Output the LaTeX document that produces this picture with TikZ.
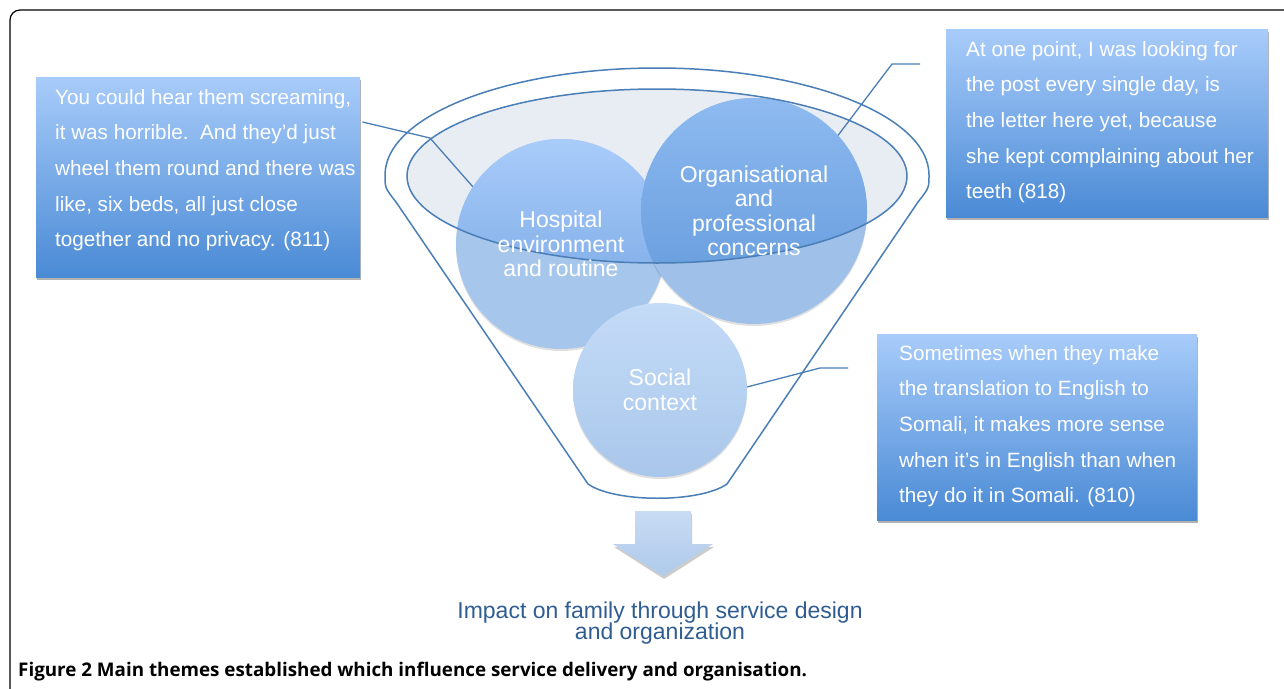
\documentclass[tikz,border=0pt]{standalone}
\usepackage{fontspec}
\setmainfont{Liberation Sans}
\newfontfamily\capfont{Open Sans}
\usetikzlibrary{shadows,calc}
\definecolor{boxtop}{HTML}{A8CCFA}
\definecolor{boxbot}{HTML}{4A8AD5}
\definecolor{lineblue}{HTML}{4A7EB6}
\definecolor{ellfill}{HTML}{E8ECF3}
\definecolor{hospout}{HTML}{A7C6EC}
\definecolor{hospintop}{HTML}{A9CCFA}
\definecolor{hospinbot}{HTML}{70A1E0}
\definecolor{orgout}{HTML}{9EC0E9}
\definecolor{orgintop}{HTML}{8EBAF0}
\definecolor{orginbot}{HTML}{5F97DA}
\definecolor{soctop}{HTML}{C4DBF7}
\definecolor{socbot}{HTML}{A9C7EB}
\definecolor{arrtop}{HTML}{C8DBF3}
\definecolor{arrbot}{HTML}{AFCAEC}
\definecolor{labelblue}{HTML}{2F5D92}
\tikzset{
  qbox/.style={rectangle, inner sep=0pt, top color=boxtop, bottom color=boxbot,
    drop shadow={shadow xshift=1pt, shadow yshift=-3pt, opacity=.3, fill=black}},
  qtext/.style={anchor=north west, inner sep=0pt, align=left, text=white,
    font=\fontsize{20.7}{35.6}\selectfont},
  bubble/.style={circle, inner sep=0pt},
  ctext/.style={inner sep=0pt, align=center, text=white,
    font=\fontsize{23}{24.5}\selectfont},
  conn/.style={draw=lineblue, line width=1.3pt},
  outl/.style={draw=lineblue, line width=1.5pt},
}
\begin{document}
\begin{tikzpicture}[x=1pt,y=-1pt]
\useasboundingbox (0,0) rectangle (1284,688);
% frame
\draw[line width=1.2pt, rounded corners=10pt] (10,720) |- (1310,10);
% ellipse fill
\fill[ellfill] (657,176) ellipse [x radius=250, y radius=87];
% circles outside colours
\node[bubble, minimum size=210pt, fill=hospout,
  drop shadow={shadow xshift=0pt, shadow yshift=-2pt, opacity=.12, fill=black}] (hosp) at (561,244) {};
\node[bubble, minimum size=226pt, fill=orgout,
  drop shadow={shadow xshift=0pt, shadow yshift=-2pt, opacity=.12, fill=black}] (org) at (754,211) {};
% inside the ellipse: darker
\begin{scope}
  \clip (657,176) ellipse [x radius=250, y radius=87];
  \shade[top color=hospintop, bottom color=hospinbot] (hosp.center) circle [radius=105];
  \shade[top color=orgintop, bottom color=orginbot] (org.center) circle [radius=113];
\end{scope}
\node[bubble, minimum size=174pt, top color=soctop, bottom color=socbot,
  drop shadow={shadow xshift=0pt, shadow yshift=-2pt, opacity=.12, fill=black}] (soc) at (660,390) {};
% ellipse outline
\draw[outl] (657,176) ellipse [x radius=250, y radius=87];
% funnel outline
\draw[outl] (588,484) -- (396,202) .. controls (385,188) .. (385,175)
  arc [start angle=180, end angle=360, x radius=272, y radius=107]
  .. controls (929,188) .. (918,202) -- (727,484)
  .. controls (700,503) and (615,503) .. (588,484) -- cycle;
% quote boxes
\node[qbox, anchor=north west, minimum width=324pt, minimum height=200pt] (q1box) at (36,77) {};
\node[qtext] (q1) at (55,89) {You could hear them screaming,\\it was horrible.\ \ And they’d just\\wheel them round and there was\\like, six beds, all just close\\together and no privacy. (811)};
\node[qbox, anchor=north west, minimum width=322pt, minimum height=188pt] (q2box) at (946,29) {};
\node[qtext] (q2) at (966,41) {At one point, I was looking for\\the post every single day, is\\the letter here yet, because\\she kept complaining about her\\teeth (818)};
\node[qbox, anchor=north west, minimum width=320pt, minimum height=186pt] (q3box) at (877,334) {};
\node[qtext] (q3) at (899,345) {Sometimes when they make\\the translation to English to\\Somali, it makes more sense\\when it’s in English than when\\they do it in Somali. (810)};
% circle texts
\node[ctext] (hospt) at (hosp.center) {Hospital\\environment\\and routine};
\node[ctext] (orgt) at (org.center) {Organisational\\and\\professional\\concerns};
\node[ctext] (soct) at (soc.center) {Social\\context};
% connectors
\draw[conn] ($(q1box.north east)+(2,45)$) -- (430,138) -- (hosp.147);
\draw[conn] ($(q2box.north west)+(-26,35)$) -- (892,64) -- (org.42);
\draw[conn] ($(q3box.north west)+(-29,34)$) -- (820,368) -- (soc.2);
% arrow
\path[top color=arrtop, bottom color=arrbot,
  drop shadow={shadow xshift=1pt, shadow yshift=-3pt, opacity=.2, fill=black}]
  (635,511) -- (691,511) -- (691,544) -- (713,544) -- (663,576) -- (613,544) -- (635,544) -- cycle;
\node[align=center, text=labelblue, inner sep=0pt, font=\fontsize{23}{21.5}\selectfont] (impact) at (660,623)
  {Impact on family through service design\\and organization};
\node[anchor=west, inner sep=0pt, font=\capfont\bfseries\fontsize{18.8}{20}\selectfont] (cap) at (18,672)
  {Figure 2 Main themes established which influence service delivery and organisation.};
\end{tikzpicture}
\end{document}
